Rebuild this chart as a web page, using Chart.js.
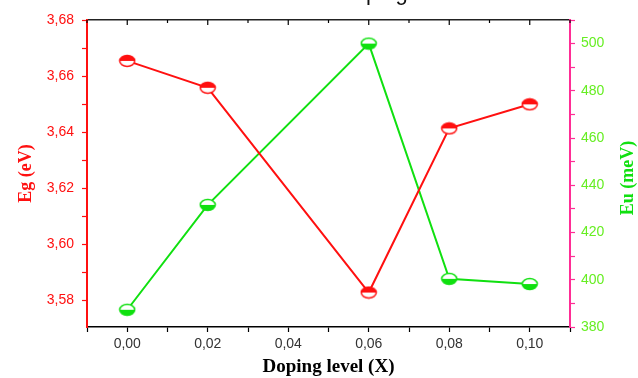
<!DOCTYPE html>
<html>
<head>
<meta charset="utf-8">
<script src="https://cdn.jsdelivr.net/npm/chart.js@4/dist/chart.umd.min.js"></script>
<style>
  html, body { margin: 0; padding: 0; background: #fff; }
  #wrap { width: 638px; height: 378px; }
</style>
</head>
<body>
<div id="wrap"><canvas id="c" width="638" height="378"></canvas></div>
<script>
// ---- Daten ----
const dopingX  = [0.00, 0.02, 0.06, 0.08, 0.10];
const egValues = [3.6654, 3.6558, 3.5827, 3.6413, 3.6499];   // eV
const euValues = [387.3, 431.7, 500.0, 400.4, 398.2];        // meV

const xTicks  = [-0.01, 0.00, 0.01, 0.02, 0.03, 0.04, 0.05, 0.06, 0.07, 0.08, 0.09, 0.10, 0.11];
const egTicks = [3.58, 3.59, 3.60, 3.61, 3.62, 3.63, 3.64, 3.65, 3.66, 3.67, 3.68];
const euTicks = [380, 390, 400, 410, 420, 430, 440, 450, 460, 470, 480, 490, 500, 510];

const RED   = "#ff1010";
const GREEN = "#10e010";
const LABEL_GREEN = "#66ee22";

// halb gefuellter Kreis als Marker
function marker(color, topFilled){
  const c = document.createElement("canvas");
  c.width = 18; c.height = 14;
  const g = c.getContext("2d");
  const ell = () => { g.beginPath(); g.ellipse(9, 7, 7.5, 5.5, 0, 0, Math.PI * 2); };
  ell(); g.fillStyle = "#fff"; g.fill();
  g.save();
  g.beginPath();
  if (topFilled) g.rect(0, 0, 18, 7); else g.rect(0, 7, 18, 7);
  g.clip();
  ell(); g.fillStyle = color; g.fill();
  g.restore();
  ell(); g.lineWidth = 1.5; g.strokeStyle = color; g.stroke();
  return c;
}

const fmt = (v, d) => v.toFixed(d).replace(".", ",");
const isEven = (v, step) => Math.abs(Math.round(v / step) - v / step) < 1e-6;

// ---- Extras: innere Ticks oben, rechter Titel, abgeschnittener Titel ----
const extras = {
  id: "extras",
  afterDraw(chart){
    const ctx = chart.ctx;
    const top = chart.scales.x2;
    const ca = chart.chartArea;
    ctx.save();
    ctx.strokeStyle = "#000";
    ctx.lineWidth = 1.2;
    top.ticks.forEach((t, i) => {
      const px = top.getPixelForTick(i);
      const len = isEven(t.value, 0.02) ? 5 : 3;
      ctx.beginPath();
      ctx.moveTo(px, ca.top);
      ctx.lineTo(px, ca.top + len);
      ctx.stroke();
    });

    // rechter Achsentitel (von unten nach oben)
    ctx.fillStyle = GREEN;
    ctx.font = "bold 18px 'Liberation Serif', 'Times New Roman', serif";
    ctx.textAlign = "center";
    ctx.textBaseline = "middle";
    ctx.translate(628, 178);
    ctx.rotate(-Math.PI / 2);
    ctx.fillText("Eu (meV)", 0, 0);
    ctx.restore();

    // oben abgeschnittener Titel
    ctx.save();
    ctx.fillStyle = "#111";
    ctx.font = "22px 'Liberation Sans', Arial, sans-serif";
    ctx.textAlign = "left";
    ctx.textBaseline = "alphabetic";
    ctx.fillText("Doping", 338, 0);
    ctx.restore();
  }
};

const ctx = document.getElementById("c").getContext("2d");
new Chart(ctx, {
  type: "line",
  data: {
    datasets: [
      {
        label: "Eg",
        data: dopingX.map((x, i) => ({ x, y: egValues[i] })),
        yAxisID: "y",
        borderColor: RED,
        borderWidth: 2,
        pointStyle: marker(RED, true),
        pointRadius: 7,
        tension: 0
      },
      {
        label: "Eu",
        data: dopingX.map((x, i) => ({ x, y: euValues[i] })),
        yAxisID: "y2",
        borderColor: GREEN,
        borderWidth: 2,
        pointStyle: marker(GREEN, false),
        pointRadius: 7,
        tension: 0
      }
    ]
  },
  options: {
    responsive: false,
    animation: false,
    layout: { padding: 0 },
    plugins: { legend: { display: false }, tooltip: { enabled: false } },
    scales: {
      x: {
        type: "linear",
        position: "bottom",
        min: -0.01, max: 0.11,
        afterBuildTicks: (s) => { s.ticks = xTicks.map(v => ({ value: v })); },
        afterFit: (s) => { s.height = 51; },
        ticks: {
          autoSkip: false, maxRotation: 0, padding: 4,
          color: "#333",
          font: { family: "'Liberation Sans', Arial, sans-serif", size: 14 },
          callback: (v) => (v >= 0 && v <= 0.1001 && isEven(v, 0.02)) ? fmt(v, 2) : ""
        },
        grid: { drawOnChartArea: false, tickLength: 5, tickColor: "#000", tickWidth: 1.2 },
        border: { color: "#000", width: 1.5 },
        title: {
          display: true, text: "Doping level (X)", color: "#000",
          font: { family: "'Liberation Serif', 'Times New Roman', serif", size: 19, weight: "bold" },
          padding: { top: 0, bottom: 0 }
        }
      },
      x2: {
        type: "linear",
        position: "top",
        min: -0.01, max: 0.11,
        afterBuildTicks: (s) => { s.ticks = xTicks.map(v => ({ value: v })); },
        afterFit: (s) => { s.height = 20; },
        ticks: { display: false },
        grid: { drawOnChartArea: false, drawTicks: false },
        border: { color: "#222", width: 1.5 }
      },
      y: {
        type: "linear",
        position: "left",
        min: 3.5704, max: 3.68,
        afterBuildTicks: (s) => { s.ticks = egTicks.map(v => ({ value: v })); },
        afterFit: (s) => { s.width = 87; },
        ticks: {
          autoSkip: false, padding: 8,
          color: RED,
          font: { family: "'Liberation Sans', Arial, sans-serif", size: 14 },
          callback: (v) => isEven(v, 0.02) ? fmt(v, 2) : ""
        },
        grid: { drawOnChartArea: false, tickLength: 5, tickColor: RED, tickWidth: 1.2 },
        border: { color: RED, width: 2 },
        title: {
          display: true, text: "Eg (eV)", color: RED,
          font: { family: "'Liberation Serif', 'Times New Roman', serif", size: 18, weight: "bold" },
          padding: { top: 16, bottom: 0 }
        }
      },
      y2: {
        type: "linear",
        position: "right",
        min: 380, max: 510,
        afterBuildTicks: (s) => { s.ticks = euTicks.map(v => ({ value: v })); },
        afterFit: (s) => { s.width = 68; },
        ticks: {
          autoSkip: false, padding: 6,
          color: LABEL_GREEN,
          font: { family: "'Liberation Sans', Arial, sans-serif", size: 14 },
          callback: (v) => (v <= 500 && v % 20 === 0) ? String(v) : ""
        },
        grid: { drawOnChartArea: false, tickLength: 5, tickColor: "#ff2d95", tickWidth: 1.2 },
        border: { color: "#ff2d95", width: 2 }
      }
    }
  },
  plugins: [extras]
});
</script>
</body>
</html>
